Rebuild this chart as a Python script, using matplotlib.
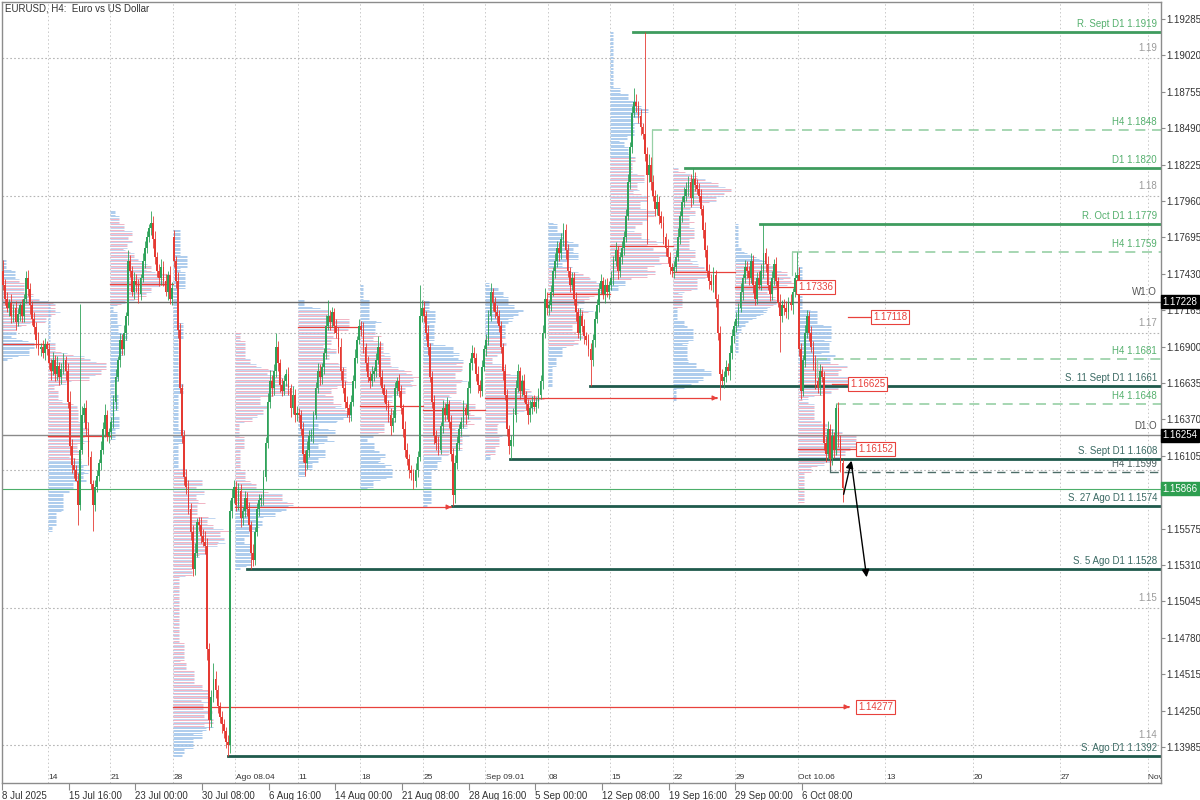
import numpy as np
import matplotlib
matplotlib.use("Agg")
import matplotlib.pyplot as plt

plt.rcParams["font.family"] = ["Liberation Sans", "DejaVu Sans"]

# ---------------- data (prices in 1/10000: price = 1 + v/10000) ----------------
TITLE = "EURUSD, H4:  Euro vs US Dollar"
OPEN_FIRST = 1745
CLOSE = [
    1735, 1725, 1718, 1722,                      # Jul 8 (from 08:00)
    1712, 1718, 1708, 1714, 1720, 1712,          # Jul 9
    1725, 1740, 1732, 1720, 1710, 1704,          # Jul 10
    1695, 1688, 1690, 1685, 1692, 1688,          # Jul 11
    1678, 1672, 1680, 1670, 1676, 1668,          # Jul 14
    1674, 1680, 1672, 1650, 1618, 1604,          # Jul 15
    1600, 1592, 1575, 1615, 1640, 1645,          # Jul 16
    1630, 1610, 1590, 1575, 1588, 1596,          # Jul 17
    1605, 1615, 1630, 1640, 1625, 1628,          # Jul 18
    1635, 1650, 1668, 1680, 1695, 1688,          # Jul 21
    1700, 1712, 1752, 1745, 1730, 1738,          # Jul 22
    1735, 1728, 1740, 1752, 1762, 1770,          # Jul 23
    1776, 1780, 1768, 1755, 1745, 1740,          # Jul 24
    1748, 1738, 1730, 1742, 1725, 1733,          # Jul 25
    1752, 1738, 1702, 1660, 1625, 1595,          # Jul 28
    1588, 1572, 1555, 1528, 1540, 1562,          # Jul 29
    1560, 1552, 1548, 1545, 1470, 1418,          # Jul 30
    1435, 1448, 1440, 1428, 1420, 1415,          # Jul 31
    1410, 1402, 1400, 1570, 1580, 1588,          # Aug 1
    1575, 1585, 1565, 1570, 1580, 1572,          # Aug 4
    1560, 1540, 1535, 1555, 1572, 1578,          # Aug 5
    1580, 1595, 1620, 1650, 1665, 1660,          # Aug 6
    1672, 1690, 1678, 1662, 1658, 1665,          # Aug 7
    1670, 1660, 1645, 1655, 1640, 1642,          # Aug 8
    1640, 1630, 1612, 1605, 1615, 1625,          # Aug 11
    1625, 1640, 1660, 1672, 1668, 1675,          # Aug 12
    1685, 1705, 1712, 1708, 1715, 1705,          # Aug 13
    1700, 1690, 1672, 1660, 1650, 1645,          # Aug 14
    1640, 1650, 1665, 1682, 1695, 1705,          # Aug 15
    1702, 1690, 1678, 1668, 1665, 1670,          # Aug 18
    1672, 1680, 1690, 1668, 1660, 1655,          # Aug 19
    1648, 1640, 1632, 1638, 1660, 1665,          # Aug 20
    1658, 1645, 1630, 1615, 1608, 1600,          # Aug 21
    1598, 1592, 1600, 1610, 1712, 1718,          # Aug 22
    1712, 1700, 1690, 1668, 1650, 1625,          # Aug 25
    1620, 1615, 1632, 1645, 1640, 1648,          # Aug 26
    1635, 1612, 1582, 1605, 1620, 1630,          # Aug 27
    1635, 1645, 1640, 1660, 1678, 1685,          # Aug 28
    1682, 1670, 1662, 1658, 1675, 1688,          # Aug 29
    1695, 1712, 1730, 1722, 1715, 1712,          # Sep 1
    1705, 1690, 1672, 1655, 1630, 1618,          # Sep 2
    1622, 1640, 1660, 1672, 1658, 1665,          # Sep 3
    1655, 1648, 1640, 1645, 1650, 1646,          # Sep 4
    1650, 1655, 1665, 1700, 1725, 1718,          # Sep 5
    1720, 1730, 1745, 1752, 1762, 1758,          # Sep 8
    1768, 1775, 1760, 1745, 1735, 1740,          # Sep 9
    1725, 1715, 1700, 1712, 1705, 1698,          # Sep 10
    1695, 1688, 1680, 1695, 1710, 1720,          # Sep 11
    1732, 1738, 1728, 1735, 1730, 1735,          # Sep 12
    1740, 1752, 1760, 1745, 1755, 1762,          # Sep 15
    1770, 1785, 1810, 1835, 1860, 1868,          # Sep 16
    1865, 1858, 1850, 1845, 1830, 1815,          # Sep 17
    1822, 1810, 1800, 1790, 1795, 1785,          # Sep 18
    1780, 1770, 1762, 1755, 1748, 1745,          # Sep 19
    1748, 1755, 1770, 1785, 1795, 1800,          # Sep 22
    1805, 1810, 1798, 1812, 1808, 1805,          # Sep 23
    1800, 1790, 1775, 1760, 1745, 1738,          # Sep 24
    1735, 1742, 1725, 1700, 1670, 1665,          # Sep 25
    1668, 1675, 1672, 1685, 1698, 1705,          # Sep 26
    1710, 1718, 1730, 1740, 1748, 1745,          # Sep 29
    1740, 1752, 1735, 1725, 1740, 1735,          # Sep 30
    1745, 1758, 1750, 1735, 1728, 1740,          # Oct 1
    1750, 1738, 1722, 1712, 1720, 1718,          # Oct 2
    1715, 1722, 1720, 1730, 1740, 1742,          # Oct 3
    1688, 1658, 1680, 1700, 1712, 1700,          # Oct 6
    1690, 1678, 1665, 1660, 1672, 1668,          # Oct 7
    1620, 1612, 1630, 1608, 1625, 1615,          # Oct 8
    1645, 1622, 1605, 1587,                      # Oct 9
]
UP_WICK = [
    8, 4, 5, 3,
    6, 3, 5, 4, 2, 5,  3, 5, 6, 4, 3, 5,  4, 6, 3, 5, 4, 2,
    5, 3, 6, 4, 7, 3,  4, 5, 3, 6, 8, 5,  5, 4, 6, 0, 7, 4,  6, 5, 4, 3, 5, 4,  3, 6, 5, 8, 4, 3,
    4, 5, 6, 3, 5, 4,  6, 3, 8, 5, 4, 6,  5, 4, 3, 6, 5, 4,  3, 0, 5, 6, 4, 5,  6, 4, 5, 3, 7, 4,
    5, 4, 6, 5, 3, 4,  6, 5, 4, 5, 7, 3,  4, 6, 5, 8, 6, 4,  5, 12, 6, 4, 3, 5, 4, 3, 5, 8, 6, 5,
    4, 6, 5, 3, 5, 4,  5, 3, 6, 4, 4, 5,  3, 5, 4, 6, 8, 4,  5, 10, 4, 3, 5, 4, 4, 5, 3, 6, 4, 5,
    3, 4, 5, 3, 6, 4,  5, 3, 4, 6, 5, 3,  4, 8, 12, 5, 4, 3, 5, 4, 6, 3, 5, 4,  3, 5, 4, 6, 3, 5,
    4, 6, 3, 5, 4, 6,  3, 5, 8, 4, 5, 3,  4, 3, 5, 6, 4, 3,  5, 4, 3, 6, 5, 4,  4, 3, 5, 4, 0, 6,
    5, 4, 6, 3, 4, 5,  4, 5, 3, 6, 4, 5,  3, 5, 4, 6, 5, 4,  4, 6, 3, 5, 4, 6,  5, 3, 6, 4, 5, 3,
    4, 5, 6, 3, 4, 5,  5, 4, 3, 5, 4, 3,  4, 5, 6, 5, 3, 4,  5, 3, 4, 6, 4, 5,  3, 5, 4, 6, 8, 5,
    4, 5, 3, 6, 5, 4,  5, 0, 4, 5, 3, 4,  4, 5, 3, 6, 4, 5,  3, 4, 5, 4, 6, 5,  4, 5, 3, 4, 5, 3,
    5, 4, 6, 3, 4, 5,  4, 5, 6, 4, 5, 0,  6, 4, 5, 3, 0, 5,  8, 6, 5, 4, 6, 5,  4, 5, 3, 6, 4, 3,
    4, 5, 6, 4, 5, 6,  5, 4, 6, 0, 5, 4,  4, 5, 3, 6, 4, 5,  5, 6, 4, 3, 5, 4,  4, 5, 3, 6, 5, 4,
    5, 4, 6, 3, 5, 4,  4, 6, 5, 3, 4, 5,  5, 0, 4, 6, 3, 5,  4, 5, 3, 6, 4, 5,  5, 4, 6, 3, 4, 0,
    6, 5, 4, 6, 5, 4,  5, 4, 6, 3, 5, 4,  4, 5, 6, 4, 5, 3,  0, 5, 4, 3,
]
DN_WICK = [
    4, 5, 3, 6,
    5, 4, 6, 3, 5, 4,  4, 3, 5, 6, 4, 5,  6, 4, 5, 3, 5, 4,
    4, 6, 3, 5, 4, 6,  5, 4, 6, 5, 7, 6,  6, 0, 5, 4, 3, 5,  5, 6, 4, 0, 5, 4,  4, 5, 3, 6, 4, 5,
    5, 4, 6, 3, 5, 4,  4, 5, 6, 4, 3, 5,  5, 6, 4, 3, 5, 4,  4, 5, 6, 5, 4, 6,  5, 4, 3, 6, 4, 5,
    4, 5, 6, 4, 5, 6,  5, 4, 6, 5, 4, 3,  4, 5, 3, 6, 8, 7,  5, 4, 6, 5, 4, 6,  5, 4, 0, 6, 5, 4,
    5, 4, 6, 5, 4, 5,  4, 0, 5, 4, 3, 5,  4, 5, 3, 4, 5, 6,  5, 4, 6, 5, 4, 3,  4, 5, 6, 4, 5, 4,
    5, 4, 6, 0, 4, 5,  4, 5, 3, 4, 6, 5,  5, 4, 3, 6, 4, 5,  4, 5, 6, 4, 5, 6,  5, 4, 3, 5, 4, 3,
    4, 5, 6, 4, 5, 4,  5, 4, 3, 6, 4, 5,  4, 5, 6, 4, 3, 5,  5, 4, 6, 5, 4, 6,  5, 0, 4, 5, 3, 4,
    4, 5, 6, 4, 5, 6,  5, 4, 3, 5, 4, 3,  4, 5, 0, 6, 4, 5,  5, 4, 6, 3, 4, 5,  4, 5, 6, 5, 4, 3,
    5, 4, 3, 6, 4, 5,  4, 5, 6, 4, 5, 6,  0, 4, 5, 3, 6, 4,  5, 4, 6, 5, 4, 3,  4, 5, 3, 6, 4, 5,
    5, 4, 3, 5, 4, 6,  4, 5, 6, 4, 5, 4,  5, 6, 4, 5, 4, 6,  4, 5, 0, 4, 5, 3,  5, 4, 3, 6, 4, 5,
    4, 5, 3, 6, 4, 5,  5, 4, 3, 5, 4, 3,  4, 5, 6, 4, 5, 0,  5, 6, 4, 5, 4, 6,  4, 5, 6, 4, 5, 4,
    5, 4, 3, 5, 4, 3,  4, 5, 6, 4, 5, 4,  5, 4, 6, 5, 4, 6,  4, 5, 6, 5, 4, 3,  5, 4, 3, 6, 4, 5,
    4, 5, 3, 6, 4, 5,  5, 4, 6, 5, 4, 3,  4, 5, 6, 4, 5, 4,  5, 4, 3, 0, 4, 5,  4, 5, 3, 6, 4, 5,
    5, 6, 4, 5, 4, 6,  4, 5, 6, 4, 5, 4,  5, 6, 4, 5, 4, 6,  4, 5, 6, 0,
]
OPEN_GAPS = {82: 1770}
HIGH_SPIKES = {37: 1721, 71: 1789, 200: 1735, 269: 1780, 303: 1878, 308: 1919,
               331: 1820, 365: 1779, 381: 1759, 400: 1648}
LOW_SPIKES = {36: 1560, 43: 1556, 108: 1392, 119: 1528, 145: 1596, 197: 1586,
              216: 1574, 244: 1608, 282: 1661, 309: 1765, 344: 1651, 373: 1686, 403: 1577}

DATE_LABELS = ["8 Jul 2025", "15 Jul 16:00", "23 Jul 00:00", "30 Jul 08:00", "6 Aug 16:00",
               "14 Aug 00:00", "21 Aug 08:00", "28 Aug 16:00", "5 Sep 00:00", "12 Sep 08:00",
               "19 Sep 16:00", "29 Sep 00:00", "6 Oct 08:00"]
WEEK_LABELS = ["14", "21", "28", "Ago 08.04", "11", "18", "25", "Sep 09.01", "08", "15",
               "22", "29", "Oct 10.06", "13", "20", "27", "Nov 1"]
Y_TICKS = [1.13985, 1.14250, 1.14515, 1.14780, 1.15045, 1.15310, 1.15575, 1.15840,
           1.16105, 1.16370, 1.16635, 1.16900, 1.17165, 1.17430, 1.17695, 1.17960,
           1.18225, 1.18490, 1.18755, 1.19020, 1.19285]
ROUND_LEVELS = [1.14, 1.15, 1.16, 1.17, 1.18, 1.19]
ROUND_LABELS = ["1.14", "1.15", "", "1.17", "1.18", "1.19"]

LEVEL_TEXT = ["R. Sept D1 1.1919", "H4 1.1848", "D1 1.1820", "R. Oct D1 1.1779", "H4 1.1759",
              "H4 1.1681", "S. 11 Sept D1 1.1661", "H4 1.1648", "S. Sept D1 1.1608",
              "H4 1.1599", "S. 27 Ago D1 1.1574", "S. 5 Ago D1 1.1528", "S. Ago D1 1.1392"]
LEVEL_PRICE = [1.1919, 1.1848, 1.1820, 1.1779, 1.1759, 1.1681, 1.1661, 1.1648, 1.1608,
               1.1599, 1.1574, 1.1528, 1.1392]
LEVEL_KIND = ["R", "H4", "R", "R", "H4", "H4", "S", "H4", "S", "H4s", "S", "S", "S"]

W1_OPEN = 1.17228
D1_OPEN = 1.16254
LAST_PRICE = 1.15866
WEEK_POC = [1.16919, 1.16250, 1.17356, 1.14277, 1.15732, 1.17043, 1.16468, 1.16438,
            1.16526, 1.17283, 1.17632, 1.17443, 1.17336, 1.16152]
EXTRA_POC = [1.17118, 1.16625]

# ---------------- build OHLC ----------------
assert len(CLOSE) == 404 and len(UP_WICK) == 404 and len(DN_WICK) == 404
c = 1 + np.array(CLOSE, float) / 1e4
o = np.empty_like(c)
o[0] = 1 + OPEN_FIRST / 1e4
o[1:] = c[:-1]
for k, v in OPEN_GAPS.items():
    o[k] = 1 + v / 1e4
h = np.maximum(o, c) + np.array(UP_WICK) / 1e4
l = np.minimum(o, c) - np.array(DN_WICK) / 1e4
for k, v in HIGH_SPIKES.items():
    h[k] = 1 + v / 1e4
for k, v in LOW_SPIKES.items():
    l[k] = 1 + v / 1e4
N = len(c)
x = np.arange(N)

# ---------------- layout helpers ----------------
PXB = 2.0833          # pixels per bar


def px(p):            # pixel column -> bar coordinate
    return (p - 3) / PXB


week_starts = [0] + [22 + 30 * k for k in range(13)]
week_ends = week_starts[1:] + [N]
future_weeks = [424, 466, 508, 550]

fig = plt.figure(figsize=(12, 8), dpi=100)
ax = fig.add_axes([2 / 1200, 1 - 783 / 800, 1159 / 1200, 781 / 800])
ax.set_xlim(-0.5, px(1161))
ax.set_ylim(1.13723, 1.19409)
FS = 7.0
GREEN_TXT = "#55b06e"
S_TXT = "#3b6a64"

# grid
for w in week_starts[1:] + future_weeks:
    ax.axvline(w - 0.5, color="#c9c9c9", lw=0.7, ls=(0, (1.5, 2.5)), zorder=0.5)
for lv, lab in zip(ROUND_LEVELS, ROUND_LABELS):
    ax.axhline(lv, color="#b5b5b5", lw=0.8, ls=(0, (1.5, 2)), zorder=0.5)
    if lab:
        ax.text(px(1157), lv + 0.00035, lab, ha="right", va="bottom", fontsize=FS,
                color="#9a9a9a", zorder=6)

# ---------------- weekly profiles (time at price, per week) ----------------
MAXLEN = 28
for w, (s, e) in enumerate(zip(week_starts, week_ends)):
    lo = int(np.floor(l[s:e].min() * 1e4))
    hi = int(np.ceil(h[s:e].max() * 1e4))
    bins = np.arange(lo, hi + 1)
    cnt = np.zeros(len(bins))
    for i in range(s, e):
        m = (bins >= l[i] * 1e4 - 1e-6) & (bins <= h[i] * 1e4 + 1e-6)
        if m.sum():
            cnt += m / np.sqrt(m.sum())
    poc = int(np.argmax(cnt))
    a = b = poc
    tot = cnt[poc]
    target = 0.7 * cnt.sum()
    while tot < target:
        upv = cnt[b + 1] if b + 1 < len(cnt) else -1
        dnv = cnt[a - 1] if a - 1 >= 0 else -1
        if upv >= dnv:
            b += 1
            tot += upv
        else:
            a -= 1
            tot += dnv
    lens = cnt / cnt.max() * MAXLEN
    cols = []
    for j in range(len(bins)):
        if a <= j <= b:
            cols.append("#f0a6b8" if j % 2 == 0 else "#b6cfef")
        else:
            cols.append("#9fc3ea")
    ax.hlines(bins / 1e4, s - 0.5, s - 0.5 + lens, colors=cols, lw=0.7, alpha=0.85,
              zorder=1)

# ---------------- POC lines ----------------
RED = "#e8413c"
ext_end = {3: px(848), 4: px(450), 8: px(716), 12: px(797), 13: px(855)}
arrow_weeks = {3, 4, 8}
for w, (s, e) in enumerate(zip(week_starts, week_ends)):
    x0 = s - 0.5
    x1 = ext_end.get(w, s + 29.5 if w > 0 else 21.5)
    ax.plot([x0, x1], [WEEK_POC[w], WEEK_POC[w]], color=RED, lw=0.9, zorder=2.5)
    if w in arrow_weeks:
        ax.annotate("", xy=(x1 + 2, WEEK_POC[w]), xytext=(x1 - 1, WEEK_POC[w]),
                    arrowprops=dict(arrowstyle="-|>", color=RED, lw=0.9, mutation_scale=7),
                    zorder=2.5)
ax.plot([px(848), px(872)], [EXTRA_POC[0]] * 2, color=RED, lw=0.9, zorder=2.5)
ax.plot([px(832), px(849)], [EXTRA_POC[1]] * 2, color=RED, lw=0.9, zorder=2.5)

box_kw = dict(boxstyle="square,pad=0.2", fc="white", ec=RED, lw=0.8)
for val, xl in [(WEEK_POC[12], 798), (EXTRA_POC[0], 873), (EXTRA_POC[1], 850),
                (WEEK_POC[13], 858), (WEEK_POC[3], 858)]:
    ax.text(px(xl), val, f"{val:.5f}", ha="left", va="center", fontsize=FS,
            color=RED, bbox=box_kw, zorder=7)

# ---------------- levels ----------------
level_start = [633, 652, 685, 760, 792, 817, 590, 836, 510, 830, 452, 247, 228]
for txt, pr, kind, sp in zip(LEVEL_TEXT, LEVEL_PRICE, LEVEL_KIND, level_start):
    if kind == "R":
        ax.plot([px(sp), px(1161)], [pr, pr], color="#3f9c5e", lw=2.0, zorder=2.2)
        tc = GREEN_TXT
    elif kind == "H4":
        ax.plot([px(sp), px(1161)], [pr, pr], color="#97d0a6", lw=1.2,
                ls=(0, (6, 4)), zorder=2.2)
        tc = GREEN_TXT
    elif kind == "H4s":
        ax.plot([px(sp), px(1161)], [pr, pr], color="#4d6d68", lw=1.0,
                ls=(0, (6, 4)), zorder=2.2)
        tc = "#4d6060"
    else:
        ax.plot([px(sp), px(1161)], [pr, pr], color="#1f5a4c", lw=2.0, zorder=2.2)
        tc = S_TXT
    ax.text(px(1157), pr + 0.00022, txt, ha="right", va="bottom", fontsize=FS,
            color=tc, zorder=6)

# short vertical connectors of the H4 boxes
for sp, p0, p1, col in [(652, 1.1848, 1.1808, "#97d0a6"), (792, 1.1759, 1.1742, "#97d0a6"),
                        (817, 1.1681, 1.1668, "#97d0a6"), (836, 1.1648, 1.1612, "#97d0a6"),
                        (830, 1.1599, 1.1612, "#4d6d68")]:
    ax.plot([px(sp), px(sp)], [p0, p1], color=col, lw=0.9, zorder=2.2)

# open / last price lines
ax.axhline(W1_OPEN, color="#6a6a6a", lw=1.0, zorder=2.3)
ax.axhline(D1_OPEN, color="#8a8a8a", lw=1.0, zorder=2.3)
ax.axhline(LAST_PRICE, color="#4caf6a", lw=0.8, zorder=2.3)
ax.text(px(1157), W1_OPEN + 0.00035, "W1:O", ha="right", va="bottom", fontsize=FS,
        color="#555555", zorder=6)
ax.text(px(1157), D1_OPEN + 0.00035, "D1:O", ha="right", va="bottom", fontsize=FS,
        color="#555555", zorder=6)

# ---------------- candles ----------------
up = c >= o
GREEN = "#2fa25a"
REDC = "#e53a33"
colors = np.where(up, GREEN, REDC)
ax.vlines(x, l, h, colors=colors, lw=0.6, zorder=3)
body_h = np.maximum(np.abs(c - o), 0.00003)
ax.bar(x, body_h, bottom=np.minimum(o, c), width=0.85, color=colors, linewidth=0, zorder=3.1)

# black projection arrows
ax.annotate("", xy=(px(852), 1.16089), xytext=(px(843), 1.15805),
            arrowprops=dict(arrowstyle="-|>", color="black", lw=1.0, mutation_scale=11), zorder=8)
ax.annotate("", xy=(px(867), 1.15201), xytext=(px(851), 1.16074),
            arrowprops=dict(arrowstyle="-|>", color="black", lw=1.0, mutation_scale=11), zorder=8)

# ---------------- axes styling ----------------
for sp_name, sp in ax.spines.items():
    sp.set_color("#8c8c8c")
    sp.set_linewidth(1.0)
ax.yaxis.tick_right()
shown_ticks = [v for v in Y_TICKS if abs(v - LAST_PRICE) > 0.0002]   # hidden by price box
ax.set_yticks(shown_ticks)
ax.set_yticklabels([f"{v:.5f}" for v in shown_ticks])
ax.tick_params(axis="y", direction="out", length=3, width=0.8, colors="#8c8c8c",
               labelcolor="#333333", labelsize=FS, pad=1)
ax.set_xticks([32 * k - 0.5 for k in range(len(DATE_LABELS))])
ax.set_xticklabels(DATE_LABELS)
ax.tick_params(axis="x", direction="out", length=5, width=0.8, colors="#8c8c8c",
               labelcolor="#333333", labelsize=FS, pad=0.5)
for t in ax.get_xticklabels():
    t.set_ha("left")

# week labels inside bottom of plot
for pos, lab in zip(week_starts[1:] + future_weeks, WEEK_LABELS):
    ax.text(pos - 0.5 + 0.3, 1.13740, lab, ha="left", va="bottom", fontsize=6.0,
            color="#333333", zorder=6, clip_on=True)

# axis value boxes
for val, fc in [(W1_OPEN, "black"), (D1_OPEN, "black"), (LAST_PRICE, "#2e9e50")]:
    ax.annotate(f"{val:.5f}", xy=(1.0, val), xycoords=("axes fraction", "data"),
                xytext=(1.2, 0), textcoords="offset points", ha="left", va="center",
                fontsize=FS, color="white", annotation_clip=False, zorder=9,
                bbox=dict(boxstyle="square,pad=0.18", fc=fc, ec=fc))

ax.text(px(5), 1.19400, TITLE, ha="left", va="top", fontsize=FS, color="#333333", zorder=9)

fig.savefig("out.png", dpi=100)
